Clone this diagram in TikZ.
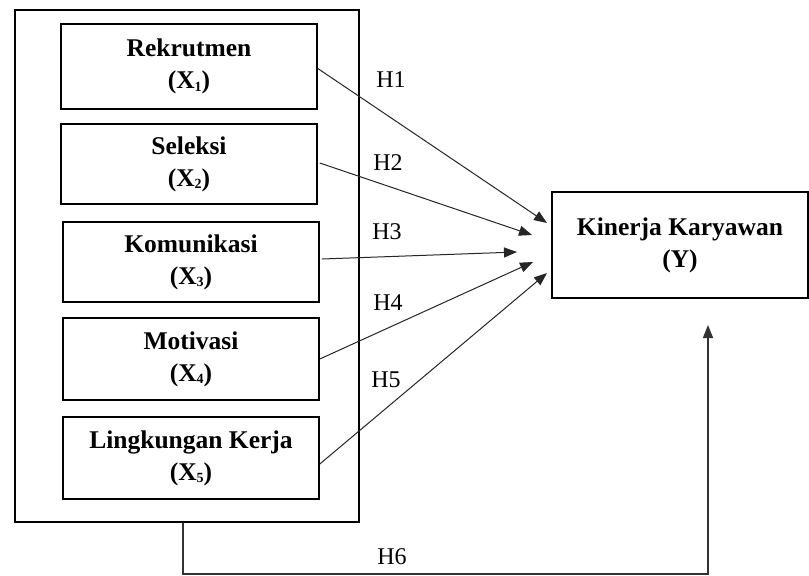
\documentclass[tikz,border=0pt]{standalone}
\usepackage{fontspec}
\setmainfont{Liberation Serif}
\usetikzlibrary{arrows.meta}
\tikzset{
  varbox/.style={draw, line width=1.6bp, minimum width=256bp, minimum height=#1, inner sep=0pt, align=center,
    font=\bfseries\fontsize{25.5bp}{32bp}\selectfont},
  outerbox/.style={draw, line width=1.8bp, minimum width=344bp, minimum height=512bp, inner sep=0pt},
  ybox/.style={draw, line width=1.6bp, minimum width=256bp, minimum height=106bp, inner sep=0pt, align=center,
    font=\bfseries\fontsize{25.5bp}{32bp}\selectfont},
  hlabel/.style={font=\fontsize{24bp}{28bp}\selectfont, inner sep=0pt},
  link/.style={line width=1bp, draw=black!85, -{Triangle[length=13bp,width=10bp]}},
  hsix/.style={line width=1.4bp, draw=black!80, -{Triangle[length=13bp,width=10bp]}}
}
\newcommand{\xsb}[1]{\raisebox{-2.5bp}{\fontsize{14bp}{14bp}\selectfont #1}}
\begin{document}
\begin{tikzpicture}[x=1bp,y=-1bp]
\useasboundingbox[fill=white] (0,0) rectangle (809,576);
\node[outerbox] (outer) at (187,266) {};
\node[varbox=85bp] (b1) at (189,66.5) {Rekrutmen\\(X\xsb{1})};
\node[varbox=80bp] (b2) at (189,164) {Seleksi\\(X\xsb{2})};
\node[varbox=80bp] (b3) at (191,262) {Komunikasi\\(X\xsb{3})};
\node[varbox=82bp] (b4) at (191,359) {Motivasi\\(X\xsb{4})};
\node[varbox=82bp] (b5) at (191,458) {Lingkungan Kerja\\(X\xsb{5})};
\node[ybox] (y) at (680,245) {Kinerja Karyawan\\(Y)};
\coordinate (t1) at (547,223);
\coordinate (t2) at (532,235);
\coordinate (t3) at (517,252);
\coordinate (t4) at (533,262);
\coordinate (t5) at (547,273);
\draw[link] ([yshift=-2bp]b1.east) -- (t1);
\draw[link] ([xshift=2bp,yshift=1bp]b2.east) -- (t2);
\draw[link] ([xshift=2bp,yshift=3bp]b3.east) -- (t3);
\draw[link] (b4.east) -- (t4);
\draw[link] ([yshift=-6bp]b5.east) -- (t5);
\node[hlabel] (h1) at (391,80) {H1};
\node[hlabel] (h2) at (388,163) {H2};
\node[hlabel] (h3) at (387,232) {H3};
\node[hlabel] (h4) at (388,303) {H4};
\node[hlabel] (h5) at (386,380) {H5};
\node[hlabel] (h6) at (392,557) {H6};
\coordinate (c1) at (183,574);
\coordinate (c2) at (708,574);
\coordinate (t6) at (708,325);
\draw[hsix] (outer.south -| c1) -- (c1) -- (c2) -- (t6);
\end{tikzpicture}
\end{document}
